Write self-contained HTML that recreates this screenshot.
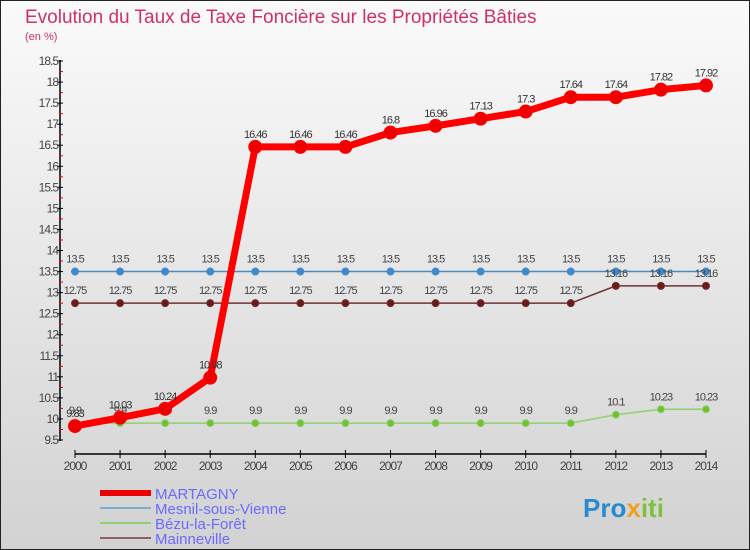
<!DOCTYPE html>
<html><head><meta charset="utf-8"><style>
body{margin:0;width:750px;height:550px;overflow:hidden;font-family:"Liberation Sans",sans-serif}
#c{position:absolute;left:0;top:0;width:748px;height:548px;border:1px solid #222;background:linear-gradient(#fafafa,#d2d2d2)}
</style></head><body>
<div id="c">
<svg id="s" width="750" height="550" style="position:absolute;left:-1px;top:-1px" font-family="Liberation Sans, sans-serif">
<text x="25" y="23" font-size="19" fill="#d0306a">Evolution du Taux de Taxe Foncière sur les Propriétés Bâties</text>
<text x="25" y="40" font-size="11" fill="#d0306a">(en %)</text>
<g id="axes"></g><g id="series"></g>
<g>
<rect x="100" y="490" width="51" height="6" fill="#e00"/>
<text x="155" y="499" font-size="15" fill="#6a6aff">MARTAGNY</text>
<rect x="100" y="507" width="51" height="2" fill="#7aaed0"/>
<text x="155" y="514" font-size="15" fill="#6a6aff">Mesnil-sous-Vienne</text>
<rect x="100" y="522" width="51" height="2" fill="#90d070"/>
<text x="155" y="529" font-size="15" fill="#6a6aff">Bézu-la-Forêt</text>
<rect x="100" y="537" width="51" height="2" fill="#906060"/>
<text x="155" y="544" font-size="15" fill="#6a6aff">Mainneville</text>
</g>
<text x="583" y="517" font-size="26" font-weight="bold" fill="#2a8ad0">Pro<tspan fill="#f0a020">x</tspan><tspan fill="#80c040">iti</tspan></text>
</svg></div>
<script>
const years=[2000,2001,2002,2003,2004,2005,2006,2007,2008,2009,2010,2011,2012,2013,2014];
const martagny=[9.83,10.03,10.24,10.98,16.46,16.46,16.46,16.8,16.96,17.13,17.3,17.64,17.64,17.82,17.92];
const mesnil=[13.5,13.5,13.5,13.5,13.5,13.5,13.5,13.5,13.5,13.5,13.5,13.5,13.5,13.5,13.5];
const bezu=[9.9,9.9,9.9,9.9,9.9,9.9,9.9,9.9,9.9,9.9,9.9,9.9,10.1,10.23,10.23];
const mainneville=[12.75,12.75,12.75,12.75,12.75,12.75,12.75,12.75,12.75,12.75,12.75,12.75,13.16,13.16,13.16];
const yTicks=[9.5,10,10.5,11,11.5,12,12.5,13,13.5,14,14.5,15,15.5,16,16.5,17,17.5,18,18.5];
const NS="http://www.w3.org/2000/svg";
const x=i=>75+i*45.07, y=v=>440-(v-9.5)*42.11;
function mk(p,t,a){const e=document.createElementNS(NS,t);for(const k in a)e.setAttribute(k,a[k]);p.appendChild(e);return e;}
const ax=document.getElementById('axes'), se=document.getElementById('series');
const yl=mk(ax,'line',{x1:60,y1:60,x2:60,y2:441,stroke:'#000','stroke-width':1.5});


yTicks.forEach(v=>{
  mk(ax,'line',{x1:57,x2:63,y1:y(v),y2:y(v),stroke:'#000'});
  mk(ax,'line',{x1:59,x2:63,y1:y(v+0.25),y2:y(v+0.25),stroke:v<18.5?'#e00':'none'});
  const t=mk(ax,'text',{x:58,y:y(v)+4,'font-size':12,fill:'#444','text-anchor':'end','letter-spacing':'-1'});
  t.textContent=v;
  
  
});
const xl=mk(ax,'line',{x1:x(0),y1:454,x2:x(14),y2:454,stroke:'#000','stroke-width':1.5});


years.forEach((yr,i)=>{
  mk(ax,'line',{x1:x(i),x2:x(i),y1:450,y2:458,stroke:'#000'});
  const t=mk(ax,'text',{x:x(i),y:470,'font-size':12,fill:'#444','text-anchor':'middle','letter-spacing':'-1'});
  t.textContent=yr;
  
  
});
function series(name,vals,col,w,r,dot,lab){
  const g=mk(se,'g',{});
  
  
  mk(g,'polyline',{points:vals.map((v,i)=>x(i)+','+y(v)).join(' '),fill:'none',stroke:col,'stroke-width':w,'stroke-linejoin':'round'});
  vals.forEach((v,i)=>{
    const c=mk(g,'circle',{cx:x(i),cy:y(v),r:r,fill:dot,stroke:col,'stroke-width':1});
    
    
    const t=mk(g,'text',{x:x(i),y:y(v)-9,'font-size':11,fill:lab,'text-anchor':'middle','letter-spacing':'-1'});
    t.textContent=v;
    
    
  });
}
series('mesnil',mesnil,'#4a8ac0',1.5,3.5,'#3a8ad0','#444');
series('mainneville',mainneville,'#703030',1.5,3.5,'#6a1a1a','#444');
series('bezu',bezu,'#90d070',1.5,3.5,'#70c030','#444');
series('martagny',martagny,'#f00',7,6.5,'#e00','#333');
</script>
</body></html>
